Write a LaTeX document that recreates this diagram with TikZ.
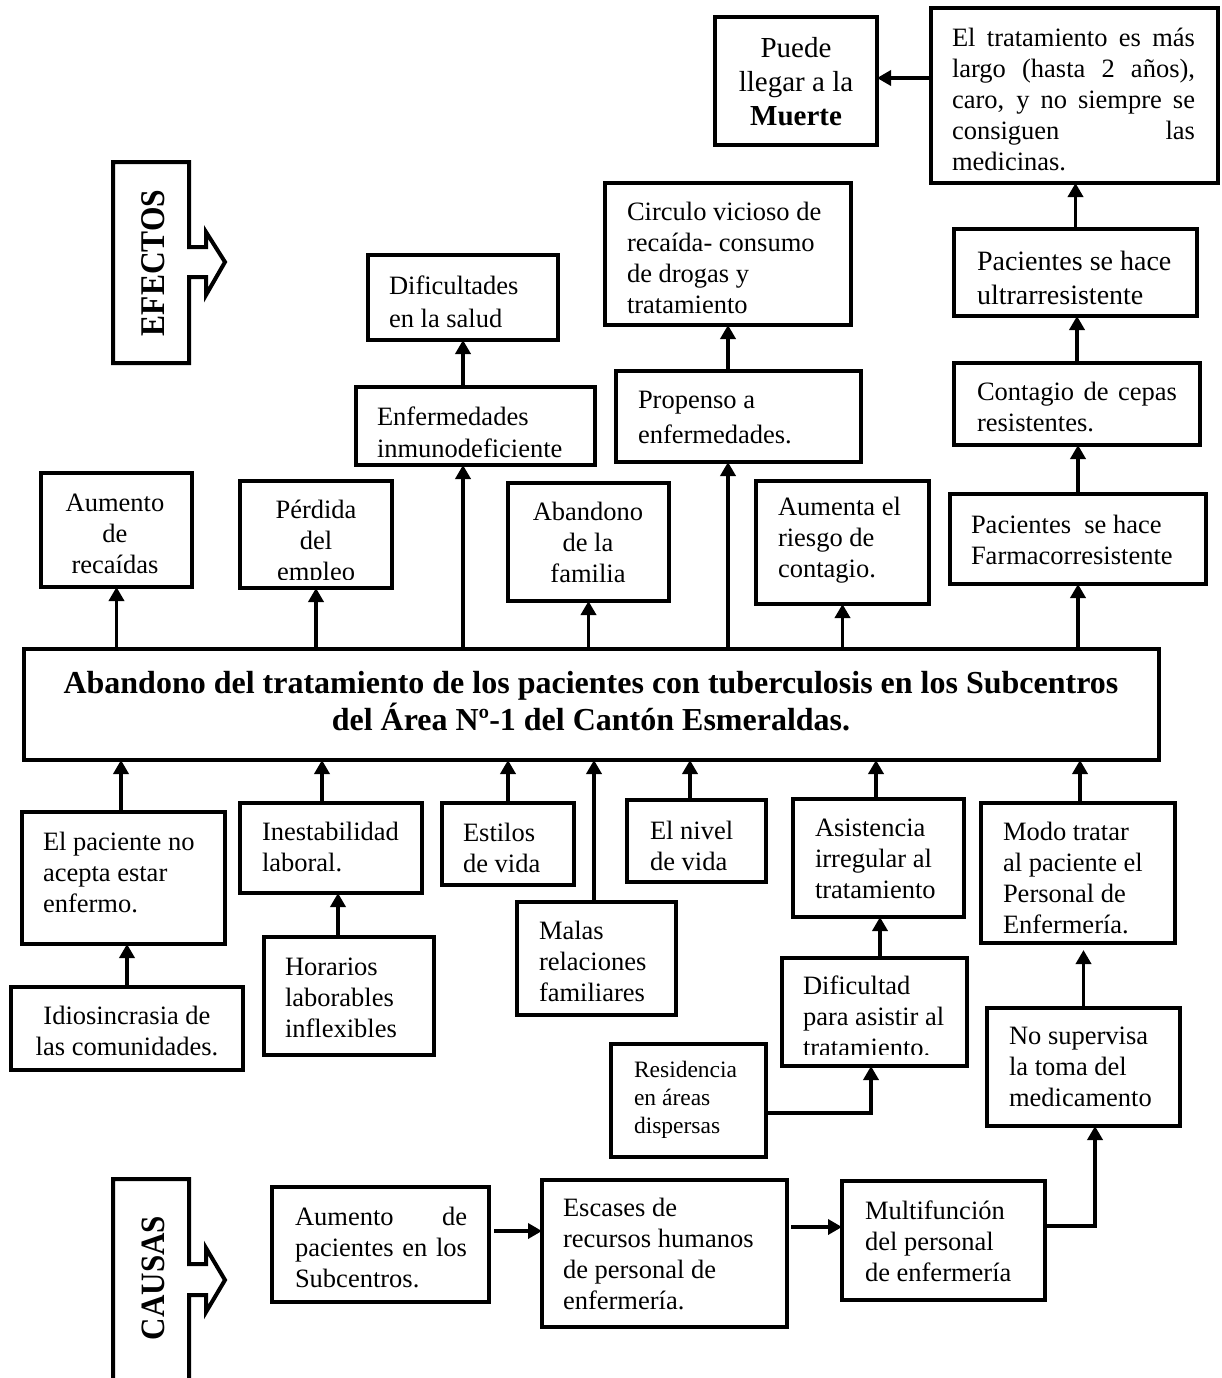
\documentclass[tikz,border=0pt]{standalone}
\usepackage{fontspec}
\setmainfont{Liberation Serif}
\usetikzlibrary{arrows.meta}
\newcommand{\fsz}[2]{\fontsize{#1}{#2}\selectfont}
\newcommand{\nf}{\fsz{26.5}{31}}
\newcommand{\bxn}[5]{\node[bx, minimum width={#4-#2}, minimum height={#5-#3}] (#1) at ({(#2+#4)/2},{(#3+#5)/2}) {};}
\newcommand{\txl}[5][\nf]{\node[tx, anchor=west, align=left, font=#1] (#2) at (#3,#4) {#5};}
\newcommand{\txc}[5][\nf]{\node[tx, anchor=center, align=center, font=#1] (#2) at (#3,#4) {#5};}
\tikzset{
  bx/.style={draw, line width=4pt, inner sep=0pt, outer sep=0pt},
  tx/.style={inner sep=0pt, outer sep=0pt},
  ar/.style={line width=3.5pt, -{Triangle[width=15pt,length=14pt]}},
  side/.style={line width=4pt, line join=miter},
}
\begin{document}
\begin{tikzpicture}[x=1pt,y=-1pt]
\fill[white] (0,0) rectangle (1221,1378);
\useasboundingbox (0,0) rectangle (1221,1378);

% side labels
\draw[side] (113,162) -- (189,162) -- (189,247) -- (206,247) -- (206,232) -- (225,262) -- (206,295) -- (206,277) -- (189,277) -- (189,363) -- (113,363) -- cycle;
\node[tx, rotate=90, font=\bfseries\fsz{31.5}{31.5}] (efx) at (153,263) {\scalebox{1}[1.1]{EFECTOS}};
\draw[side] (113,1400) -- (113,1179) -- (189,1179) -- (189,1264) -- (206,1264) -- (206,1248) -- (225,1280) -- (206,1312) -- (206,1295) -- (189,1295) -- (189,1400);
\node[tx, rotate=90, font=\bfseries\fsz{31}{31}] (cau) at (153,1278) {\scalebox{1}[1.1]{CAUSAS}};

% boxes
\bxn{muerte}{715}{17}{877}{145}
\bxn{trat}{931}{8}{1218}{183}
\bxn{circ}{605}{183}{851}{325}
\bxn{ultra}{954}{229}{1197}{316}
\bxn{cont}{954}{363}{1200}{445}
\bxn{dif}{368}{255}{558}{340}
\bxn{enf}{356}{387}{595}{465}
\bxn{prop}{616}{371}{861}{462}
\bxn{aumrec}{41}{473}{192}{587}
\bxn{perd}{240}{481}{392}{588}
\bxn{aband}{508}{483}{669}{601}
\bxn{aumenta}{756}{481}{929}{604}
\bxn{farm}{950}{494}{1206}{584}
\bxn{main}{24}{649}{1159}{760}
\bxn{pac}{22}{812}{225}{944}
\bxn{idio}{11}{987}{243}{1070}
\bxn{inest}{240}{803}{422}{893}
\bxn{hor}{264}{937}{434}{1055}
\bxn{est}{442}{803}{574}{885}
\bxn{malas}{517}{902}{676}{1015}
\bxn{nivel}{627}{800}{766}{882}
\bxn{asis}{793}{799}{964}{917}
\bxn{modo}{981}{803}{1175}{943}
\bxn{difi}{782}{958}{967}{1066}
\bxn{nosup}{987}{1008}{1180}{1126}
\bxn{resid}{611}{1044}{766}{1157}
\bxn{aumpac}{272}{1187}{489}{1302}
\bxn{esc}{542}{1180}{787}{1327}
\bxn{multi}{842}{1181}{1045}{1300}

% texts
\txc[\fsz{29}{34}]{t-muerte}{796}{82}{Puede\\llegar a la\\\textbf{Muerte}}
\txl{t-trat}{952}{99.5}{\makebox[243pt][s]{El tratamiento es más}\\\makebox[243pt][s]{largo (hasta 2 años),}\\\makebox[243pt][s]{caro, y no siempre se}\\\makebox[243pt][s]{consiguen las}\\medicinas.}
\txl{t-circ}{627}{257.5}{Circulo vicioso de\\recaída- consumo\\de drogas y\\tratamiento}
\txl[\fsz{28}{34}]{t-ultra}{977}{277.5}{Pacientes se hace\\ultrarresistente}
\txl{t-cont}{977}{406.5}{\makebox[200pt][s]{Contagio de cepas}\\resistentes.}
\txl[\fsz{26.5}{33}]{t-dif}{389}{302}{Dificultades\\en la salud}
\txl[\fsz{26.5}{32}]{t-enf}{377}{432}{Enfermedades\\inmunodeficiente}
\txl[\fsz{26.5}{35}]{t-prop}{638}{418}{Propenso a\\enfermedades.}
\txc{t-aumrec}{115}{533.5}{Aumento\\de\\recaídas}
\begin{scope}
\clip (240,470) rectangle (392,579);
\txc{t-perd}{316}{543.5}{Pérdida\\del\\empleo}
\end{scope}
\txc{t-aband}{588}{542.5}{Abandono\\de la\\familia}
\txl{t-aumenta}{778}{540}{Aumenta el\\riesgo de\\contagio.}
\txl{t-farm}{971}{539.5}{Pacientes~ se hace\\Farmacorresistente}
\txc[\bfseries\fsz{32}{37}]{t-main}{591}{701.5}{Abandono del tratamiento de los pacientes con tuberculosis en los Subcentros\\del Área Nº-1 del Cantón Esmeraldas.}
\txl{t-pac}{43}{872.5}{El paciente no\\acepta estar\\enfermo.}
\txc{t-idio}{127}{1031}{Idiosincrasia de\\las comunidades.}
\txl{t-inest}{262}{847}{Inestabilidad\\laboral.}
\txl{t-hor}{285}{997.5}{Horarios\\laborables\\inflexibles}
\txl{t-est}{463}{848}{Estilos\\de vida}
\txl{t-malas}{539}{961.5}{Malas\\relaciones\\familiares}
\txl{t-nivel}{650}{845.5}{El nivel\\de vida}
\txl{t-asis}{815}{858.5}{Asistencia\\irregular al\\tratamiento}
\txl{t-modo}{1003}{877.5}{Modo tratar\\al paciente el\\Personal de\\Enfermería.}
\begin{scope}
\clip (782,950) rectangle (967,1054);
\txl{t-difi}{803}{1016.5}{Dificultad\\para asistir al\\tratamiento.}
\end{scope}
\txl{t-nosup}{1009}{1066.5}{No supervisa\\la toma del\\medicamento}
\txl[\fsz{23.5}{28}]{t-resid}{634}{1100}{Residencia\\en áreas\\dispersas}
\txl{t-aumpac}{295}{1247.5}{\makebox[172pt][s]{Aumento de}\\\makebox[172pt][s]{pacientes en los}\\Subcentros.}
\txl{t-esc}{563}{1253.5}{Escases de\\recursos humanos\\de personal de\\enfermería.}
\txl{t-multi}{865}{1241}{Multifunción\\del personal\\de enfermería}

% connectors - effects
\draw[ar] ([yshift=3pt]muerte.east -| trat.west) -- ([yshift=3pt]muerte.east);
\draw[ar] (ultra.north) -- (ultra.north |- trat.south);
\draw[ar] (cont.north) -- (cont.north |- ultra.south);
\draw[ar] (farm.north) -- (farm.north |- cont.south);
\draw[ar] (farm.south |- main.north) -- (farm.south);
\draw[ar] (dif.south |- main.north) -- (dif.south |- enf.south);
\draw[ar] (dif.south |- enf.north) -- (dif.south);
\draw[ar] (circ.south |- main.north) -- (circ.south |- prop.south);
\draw[ar] (circ.south |- prop.north) -- (circ.south);
\draw[ar] (aumrec.south |- main.north) -- (aumrec.south);
\draw[ar] (perd.south |- main.north) -- (perd.south);
\draw[ar] (aband.south |- main.north) -- (aband.south);
\draw[ar] (aumenta.south |- main.north) -- (aumenta.south);

% connectors - causes
\coordinate (c-pac) at ([xshift=-2.5pt]pac.north);
\draw[ar] (c-pac) -- (c-pac |- main.south);
\draw[ar] (idio.north) -- (idio.north |- pac.south);
\coordinate (c-inest) at ([xshift=-9pt]inest.north);
\draw[ar] (c-inest) -- (c-inest |- main.south);
\coordinate (c-hor) at ([xshift=-11pt]hor.north);
\draw[ar] (c-hor) -- (c-hor |- inest.south);
\draw[ar] (est.north) -- (est.north |- main.south);
\coordinate (c-malas) at ([xshift=-2.5pt]malas.north);
\draw[ar] (c-malas) -- (c-malas |- main.south);
\coordinate (c-nivel) at ([xshift=-6.5pt]nivel.north);
\draw[ar] (c-nivel) -- (c-nivel |- main.south);
\coordinate (c-asis) at ([xshift=-2.5pt]asis.north);
\draw[ar] (c-asis) -- (c-asis |- main.south);
\coordinate (c-difi) at ([xshift=5.5pt]difi.north);
\draw[ar] (c-difi) -- (c-difi |- asis.south);
\coordinate (c-modo) at ([xshift=2pt]modo.north);
\draw[ar] (c-modo) -- (c-modo |- main.south);
\draw[ar, shorten >=7pt] (nosup.north) -- (nosup.north |- modo.south);
\coordinate (c-r1) at ([yshift=-12.5pt]resid.east);
\coordinate (c-r2) at ([xshift=-3.5pt]difi.south);
\draw[ar] (c-r1) -| (c-r2);
\coordinate (c-a1) at ([yshift=13.5pt]aumpac.east);
\draw[ar, shorten <=5pt] (c-a1) -- (c-a1 -| esc.west);
\coordinate (c-e1) at ([yshift=26.5pt]esc.east);
\draw[ar, shorten <=4pt] (c-e1) -- (c-e1 -| multi.west);
\coordinate (c-m1) at ([yshift=14.5pt]multi.east);
\coordinate (c-m2) at ([xshift=11.5pt]nosup.south);
\draw[ar] (c-m1) -| (c-m2);
\end{tikzpicture}
\end{document}
